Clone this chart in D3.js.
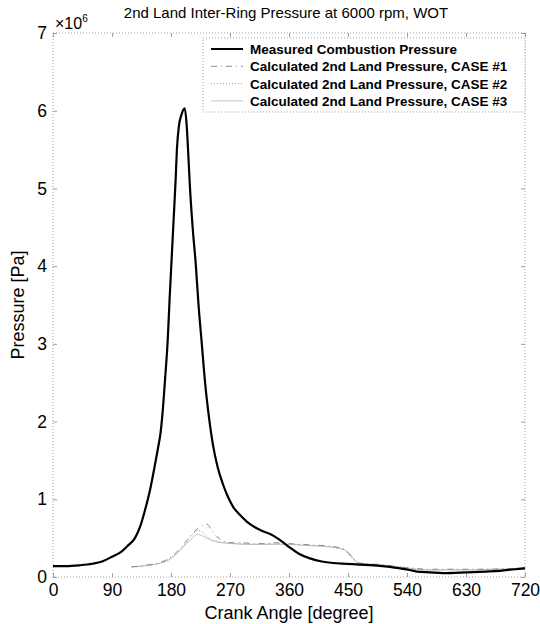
<!DOCTYPE html>
<html>
<head>
<meta charset="utf-8">
<script src="https://cdn.jsdelivr.net/npm/d3@7"></script>
<style>
  body { margin: 0; background: #fff; }
  svg { font-family: "Liberation Sans", Arial, sans-serif; }
</style>
</head>
<body>
<svg id="chart" width="540" height="624"></svg>
<script>
// pressure values in units of 1e6 Pa
const measuredAngle = [0, 20, 40, 60, 75, 90, 105, 115, 125, 133, 140, 148, 155, 160, 164, 167, 171, 175, 178, 181, 184, 187, 189, 192, 196, 201, 204, 206, 209, 213, 218, 222, 227, 232, 238, 244, 251, 259, 267, 275, 285, 296, 308, 320, 332, 342, 352, 361, 375, 392, 410, 427, 448, 468, 490, 514, 530, 544, 555, 575, 595, 631, 660, 682, 705, 720]
const measured = [0.14, 0.14, 0.15, 0.17, 0.2, 0.26, 0.33, 0.41, 0.5, 0.65, 0.85, 1.12, 1.42, 1.65, 1.85, 2.1, 2.55, 3.05, 3.6, 4.1, 4.6, 5.1, 5.5, 5.8, 5.95, 6.03, 5.8, 5.5, 5.0, 4.5, 4.0, 3.5, 3.0, 2.5, 2.05, 1.7, 1.42, 1.2, 1.03, 0.9, 0.8, 0.71, 0.64, 0.59, 0.55, 0.5, 0.44, 0.38, 0.3, 0.24, 0.2, 0.18, 0.17, 0.16, 0.15, 0.13, 0.11, 0.09, 0.07, 0.06, 0.05, 0.06, 0.07, 0.08, 0.1, 0.11]

const caseAngle = [120, 140, 160, 175, 185, 195, 205, 213, 220, 228, 235, 242, 250, 260, 275, 290, 305, 320, 340, 360, 380, 400, 420, 435, 445, 452, 460, 467, 480, 500, 520, 540, 555, 570, 590, 610, 630, 650, 670, 690, 705, 720]
const case1 = [0.13, 0.15, 0.18, 0.23, 0.29, 0.38, 0.48, 0.56, 0.62, 0.66, 0.68, 0.6, 0.52, 0.46, 0.44, 0.44, 0.43, 0.43, 0.44, 0.43, 0.42, 0.41, 0.4, 0.38, 0.35, 0.3, 0.22, 0.18, 0.17, 0.16, 0.14, 0.12, 0.11, 0.1, 0.1, 0.1, 0.1, 0.1, 0.1, 0.11, 0.11, 0.12]
const case2 = [0.13, 0.15, 0.17, 0.22, 0.28, 0.36, 0.46, 0.54, 0.6, 0.58, 0.52, 0.48, 0.46, 0.44, 0.43, 0.43, 0.42, 0.42, 0.43, 0.42, 0.41, 0.4, 0.39, 0.37, 0.34, 0.28, 0.21, 0.18, 0.17, 0.16, 0.14, 0.12, 0.1, 0.09, 0.09, 0.1, 0.09, 0.1, 0.1, 0.1, 0.11, 0.12]
const case3 = [0.13, 0.14, 0.17, 0.21, 0.27, 0.35, 0.44, 0.5, 0.55, 0.53, 0.5, 0.47, 0.45, 0.44, 0.43, 0.42, 0.42, 0.42, 0.42, 0.42, 0.41, 0.4, 0.39, 0.37, 0.35, 0.3, 0.22, 0.17, 0.16, 0.15, 0.13, 0.11, 0.1, 0.09, 0.09, 0.09, 0.09, 0.09, 0.1, 0.1, 0.11, 0.12]

const xTicks = [0, 90, 180, 270, 360, 450, 540, 630, 720]
const yTicks = [0, 1, 2, 3, 4, 5, 6, 7]

const legendLabels = [
  "Measured Combustion Pressure",
  "Calculated 2nd Land Pressure, CASE #1",
  "Calculated 2nd Land Pressure, CASE #2",
  "Calculated 2nd Land Pressure, CASE #3"
]

const svg = d3.select("#chart")
const margin = { top: 33, right: 15, bottom: 47, left: 53 }
const width = +svg.attr("width") - margin.left - margin.right
const height = +svg.attr("height") - margin.top - margin.bottom

const g = svg.append("g")
  .attr("transform", "translate(" + margin.left + "," + margin.top + ")")

const x = d3.scaleLinear().domain([0, 720]).range([0, width])
const y = d3.scaleLinear().domain([0, 7]).range([height, 0])

// box
g.append("rect")
  .attr("width", width)
  .attr("height", height)
  .attr("fill", "none")
  .attr("stroke", "#8a8a8a")
  .attr("stroke-width", 0.8)
  .attr("stroke-dasharray", "1,2")

const xAxis = g.append("g")
  .attr("transform", "translate(0," + height + ")")
  .call(d3.axisBottom(x).tickValues(xTicks).tickSize(-4).tickPadding(7))
const yAxis = g.append("g")
  .call(d3.axisLeft(y).tickValues(yTicks).tickSize(-4).tickPadding(6).tickFormat(d => d))

;[xAxis, yAxis].forEach(a => {
  a.select(".domain").remove()
  a.selectAll(".tick line").attr("stroke", "#888").attr("stroke-width", 0.8)
  a.selectAll(".tick text")
    .attr("fill", "#000")
    .style("font-size", "17.5px")
    .style("font-family", "'Liberation Sans', Arial, sans-serif")
})
// top/right ticks
g.append("g").call(d3.axisTop(x).tickValues(xTicks).tickSize(-4).tickFormat(""))
  .call(a => { a.select(".domain").remove(); a.selectAll("line").attr("stroke", "#888").attr("stroke-width", 0.8) })
g.append("g").attr("transform", "translate(" + width + ",0)")
  .call(d3.axisRight(y).tickValues(yTicks).tickSize(-4).tickFormat(""))
  .call(a => { a.select(".domain").remove(); a.selectAll("line").attr("stroke", "#888").attr("stroke-width", 0.8) })

// exponent
const expo = g.append("text")
  .attr("x", 2)
  .attr("y", -4)
  .style("font-size", "16px")
expo.append("tspan").text("\u00d710")
expo.append("tspan").attr("dy", -7).style("font-size", "10px").text("6")

// title & labels
svg.append("text")
  .attr("x", 286).attr("y", 18)
  .attr("text-anchor", "middle")
  .style("font-size", "15px")
  .text("2nd Land Inter-Ring Pressure at 6000 rpm, WOT")

svg.append("text")
  .attr("x", margin.left + width / 2).attr("y", 619)
  .attr("text-anchor", "middle")
  .style("font-size", "18px")
  .text("Crank Angle [degree]")

svg.append("text")
  .attr("transform", "translate(24," + (margin.top + height / 2) + ") rotate(-90)")
  .attr("text-anchor", "middle")
  .style("font-size", "18px")
  .text("Pressure [Pa]")

const line = d3.line().curve(d3.curveMonotoneX)

function series(angles, vals) {
  return angles.map((a, i) => [x(a), y(vals[i])])
}

const styles = [
  { stroke: "#000", width: 2.2, dash: null },
  { stroke: "#8c8c8c", width: 1, dash: "6,4,1,4" },
  { stroke: "#9a9a9a", width: 1, dash: "1,2" },
  { stroke: "#c4c4c4", width: 1, dash: null }
]

const allSeries = [
  series(caseAngle, case3),
  series(caseAngle, case2),
  series(caseAngle, case1),
  series(measuredAngle, measured)
]
const styleOrder = [3, 2, 1, 0]

g.selectAll(".curve")
  .data(allSeries)
  .enter().append("path")
    .attr("class", "curve")
    .attr("d", d => line(d))
    .attr("fill", "none")
    .attr("stroke", (d, i) => styles[styleOrder[i]].stroke)
    .attr("stroke-width", (d, i) => styles[styleOrder[i]].width)
    .attr("stroke-dasharray", (d, i) => styles[styleOrder[i]].dash)
    .attr("stroke-linejoin", "round")

// legend
const lg = svg.append("g").attr("transform", "translate(203,38)")
lg.append("rect")
  .attr("width", 322).attr("height", 74)
  .attr("fill", "#fff")
  .attr("stroke", "#8a8a8a")
  .attr("stroke-width", 0.8)
  .attr("stroke-dasharray", "1,2")

const rows = lg.selectAll(".row")
  .data(legendLabels)
  .enter().append("g")
    .attr("transform", (d, i) => "translate(0," + (11 + i * 17.3) + ")")
rows.append("line")
  .attr("x1", 8).attr("x2", 40)
  .attr("stroke", (d, i) => styles[i].stroke)
  .attr("stroke-width", (d, i) => i === 0 ? 2 : 1)
  .attr("stroke-dasharray", (d, i) => styles[i].dash)
rows.append("text")
  .attr("x", 47).attr("y", 5)
  .style("font-size", "13.5px")
  .style("font-weight", "bold")
  .text(d => d)
</script>
</body>
</html>
